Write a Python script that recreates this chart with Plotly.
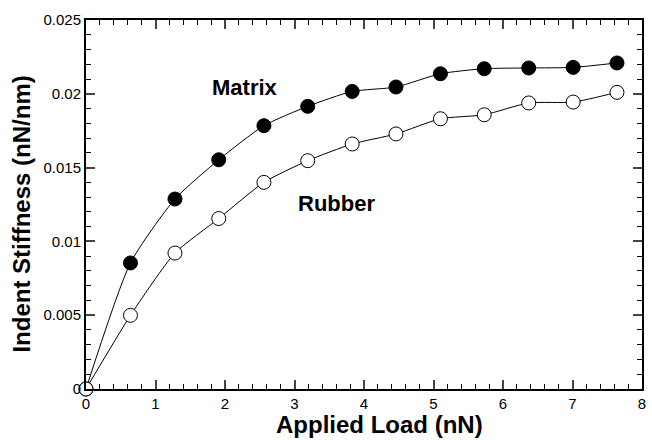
import plotly.graph_objects as go

load = [0, 0.64, 1.28, 1.91, 2.56, 3.19, 3.83, 4.46, 5.10, 5.73, 6.37, 7.01, 7.64]
matrix = [0, 0.00854, 0.01287, 0.01553, 0.01784, 0.01915, 0.02016, 0.02046, 0.02136, 0.0217, 0.02175, 0.02179, 0.02209]
rubber = [0, 0.00499, 0.00921, 0.01155, 0.0140, 0.01547, 0.0166, 0.01728, 0.01831, 0.01858, 0.01938, 0.01944, 0.0201]

x_ticks = [0, 1, 2, 3, 4, 5, 6, 7, 8]
y_ticks = [0, 0.005, 0.01, 0.015, 0.02, 0.025]
y_ticktext = ["0", "0.005", "0.01", "0.015", "0.02", "0.025"]

FONT = "Liberation Sans, Arial, Helvetica"

fig = go.Figure()
fig.add_trace(go.Scatter(
    x=load, y=matrix, mode="lines+markers", name="Matrix", cliponaxis=False,
    line=dict(color="black", width=1, shape="spline", smoothing=0.6),
    marker=dict(size=14, color="black", line=dict(color="black", width=1)),
))
fig.add_trace(go.Scatter(
    x=load, y=rubber, mode="lines+markers", name="Rubber", cliponaxis=False,
    line=dict(color="black", width=1, shape="spline", smoothing=0.6),
    marker=dict(size=14, color="white", line=dict(color="black", width=1)),
))

fig.add_annotation(x=2.29, y=0.0204, text="<b>Matrix</b>", showarrow=False,
                   font=dict(family=FONT, size=22, color="black"))
fig.add_annotation(x=3.6, y=0.01255, text="<b>Rubber</b>", showarrow=False,
                   font=dict(family=FONT, size=22, color="black"))

# axis titles placed as annotations to match the reference's offsets
fig.add_annotation(xref="paper", yref="paper", x=0.5286, y=-0.097, xanchor="center", yanchor="middle",
                   text="<b>Applied Load (nN)</b>", showarrow=False,
                   font=dict(family=FONT, size=24, color="black"))
fig.add_annotation(xref="paper", yref="paper", x=-0.116, y=0.474, xanchor="center", yanchor="middle",
                   text="<b>Indent Stiffness (nN/nm)</b>", textangle=-90, showarrow=False,
                   font=dict(family=FONT, size=24, color="black"))

fig.update_layout(
    width=652, height=440,
    margin=dict(l=86, r=6, t=20, b=51),
    paper_bgcolor="white", plot_bgcolor="white",
    showlegend=False,
    font=dict(family=FONT, color="black"),
)
fig.update_xaxes(
    range=[0, 8], tickvals=x_ticks, ticks="inside", ticklen=9, tickwidth=1.5,
    showline=True, linecolor="black", linewidth=2, mirror="ticks",
    showgrid=False, zeroline=False,
    tickfont=dict(size=15),
    minor=dict(ticks="inside", dtick=0.2, ticklen=5, tickwidth=1.2, tickcolor="black", showgrid=False),
)
fig.update_yaxes(
    range=[0, 0.025], tickvals=y_ticks, ticktext=y_ticktext, ticks="inside", ticklen=9, tickwidth=1.5,
    showline=True, linecolor="black", linewidth=2, mirror="ticks",
    showgrid=False, zeroline=False,
    tickfont=dict(size=15),
    minor=dict(ticks="inside", dtick=0.001, ticklen=5, tickwidth=1.2, tickcolor="black", showgrid=False),
)
fig.write_html("out.html")
